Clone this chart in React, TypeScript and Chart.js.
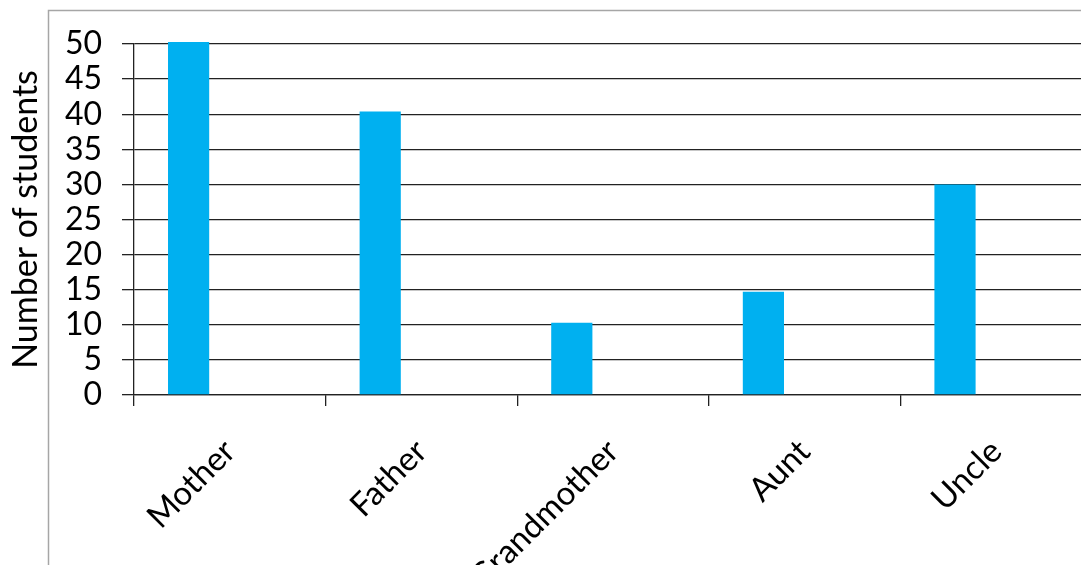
import React, { useEffect, useRef } from "react";
import { Chart, registerables } from "chart.js";

Chart.register(...registerables);

const categories = ["Mother", "Father", "Grandmother", "Aunt", "Uncle"];
const studentCounts = [50.3, 40.4, 10.3, 14.7, 30];
const emptySeriesA = [null, null, null, null, null];
const emptySeriesB = [null, null, null, null, null];
const yTickMax = 50;
const yTickStep = 5;
const yAxisTitle = "Number of students";

const FONT = "Lato, 'Open Sans', sans-serif";

const borderPlugin = {
  id: "outerBorder",
  beforeDraw(chart: any) {
    const ctx = chart.ctx;
    ctx.save();
    ctx.strokeStyle = "#a6a6a6";
    ctx.lineWidth = 1.5;
    ctx.beginPath();
    ctx.moveTo(48.5, chart.height);
    ctx.lineTo(48.5, 10.5);
    ctx.lineTo(chart.width, 10.5);
    ctx.stroke();
    ctx.restore();
  },
};

export default function App() {
  const ref = useRef<HTMLCanvasElement | null>(null);

  useEffect(() => {
    document.body.style.margin = "0";
    const canvas = ref.current!;
    const chart = new Chart(canvas, {
      type: "bar",
      data: {
        labels: categories,
        datasets: [
          {
            label: "Students",
            data: studentCounts,
            backgroundColor: "#00B0F0",
            borderWidth: 0,
            clip: false as any,
          },
          { label: "B", data: emptySeriesA as any, backgroundColor: "#00B0F0" },
          { label: "C", data: emptySeriesB as any, backgroundColor: "#00B0F0" },
        ],
      },
      options: {
        responsive: false,
        animation: false,
        categoryPercentage: 0.645,
        barPercentage: 1,
        layout: { padding: { top: 44, right: 8, left: 0, bottom: 0 } },
        plugins: {
          legend: { display: false },
          tooltip: { enabled: false },
        },
        scales: {
          x: {
            afterFit(scale: any) {
              scale.height = 170;
            },
            grid: {
              offset: true,
              drawOnChartArea: false,
              drawTicks: true,
              tickLength: 11,
              color: "#222",
              lineWidth: 1.3,
            },
            border: { display: true, color: "#222", width: 1.3 },
            ticks: {
              autoSkip: false,
              maxRotation: 45,
              minRotation: 45,
              padding: 26,
              color: "#000",
              font: { family: FONT, size: 33 },
            },
          },
          y: {
            min: 0,
            max: yTickMax,
            afterFit(scale: any) {
              scale.width = 134;
            },
            ticks: {
              stepSize: yTickStep,
              autoSkip: false,
              padding: 20,
              color: "#000",
              font: { family: FONT, size: 32 },
            },
            grid: {
              color: "#222",
              lineWidth: 1.3,
              tickLength: 12,
              drawTicks: true,
            },
            border: { display: true, color: "#222", width: 1.3 },
            title: {
              display: true,
              text: yAxisTitle,
              color: "#000",
              font: { family: FONT, size: 34 },
              padding: { top: 6, bottom: 0 },
            },
          },
        },
      },
      plugins: [borderPlugin],
    });
    return () => chart.destroy();
  }, []);

  return (
    <div
      style={{
        position: "fixed",
        left: 0,
        top: 0,
        width: 1081,
        height: 565,
        overflow: "hidden",
        background: "#fff",
      }}
    >
      <canvas ref={ref} width={1100} height={565} style={{ display: "block" }} />
    </div>
  );
}
